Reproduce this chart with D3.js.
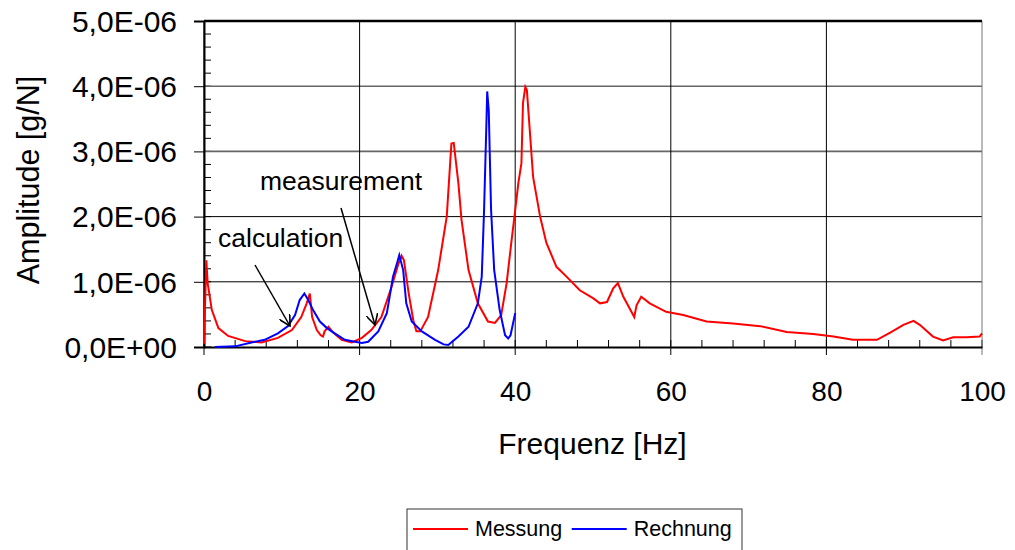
<!DOCTYPE html>
<html>
<head>
<meta charset="utf-8">
<script src="https://cdn.jsdelivr.net/npm/d3@7"></script>
<style>
  body { margin: 0; background: #fff; }
  text { font-family: "Liberation Sans", Arial, sans-serif; fill: #000; }
</style>
</head>
<body>
<div id="viz"></div>
<script>
// amplitudes in units of 1E-06 g/N
var messungFreq = [0, 0.3, 0.47, 0.77, 1.0, 1.85, 3.1, 5.3, 7.4, 9.5, 11.3, 12.5, 13.2, 13.6, 13.9, 14.5, 15.0, 15.3, 15.5, 16.0, 16.6, 17.7, 19.0, 20.3, 21.5, 22.8, 24.1, 25.0, 25.4, 25.7, 26.3, 26.9, 27.3, 27.8, 28.8, 30.1, 31.2, 31.8, 32.1, 32.7, 33.1, 34.0, 35.2, 36.5, 37.4, 38.2, 38.9, 39.5, 40.0, 40.4, 40.8, 41.0, 41.3, 41.5, 41.9, 42.3, 43.2, 44.0, 45.3, 46.6, 48.3, 50.0, 50.9, 51.8, 52.6, 53.2, 53.9, 54.8, 55.3, 55.6, 56.2, 57.3, 59.4, 61.6, 64.6, 68.0, 71.5, 74.9, 78.3, 80.9, 83.4, 86.5, 88.2, 89.9, 91.2, 92.0, 93.7, 95.0, 96.3, 98.0, 99.7, 100];
var messungAmp = [0.05, 1.33, 0.98, 0.75, 0.57, 0.29, 0.17, 0.09, 0.07, 0.14, 0.26, 0.46, 0.67, 0.82, 0.46, 0.26, 0.18, 0.16, 0.24, 0.31, 0.22, 0.11, 0.07, 0.14, 0.26, 0.46, 0.92, 1.28, 1.40, 1.33, 0.83, 0.41, 0.24, 0.24, 0.46, 1.18, 2.0, 3.12, 3.13, 2.51, 1.95, 1.18, 0.67, 0.39, 0.37, 0.49, 0.98, 1.6, 2.1, 2.51, 2.82, 3.74, 3.99, 3.94, 3.28, 2.61, 2.0, 1.6, 1.23, 1.08, 0.87, 0.75, 0.67, 0.69, 0.90, 0.98, 0.77, 0.57, 0.46, 0.64, 0.77, 0.67, 0.54, 0.49, 0.39, 0.36, 0.32, 0.23, 0.20, 0.16, 0.11, 0.11, 0.22, 0.34, 0.40, 0.34, 0.16, 0.10, 0.15, 0.15, 0.16, 0.21];

var rechnungFreq = [1.4, 4.0, 6.1, 7.8, 9.5, 10.8, 11.7, 12.3, 12.9, 13.4, 14.0, 14.9, 15.8, 16.8, 18.1, 19.4, 20.3, 21.1, 22.4, 23.5, 24.3, 24.8, 25.1, 25.6, 26.0, 26.7, 28.0, 29.7, 30.8, 31.4, 32.7, 34.0, 35.2, 35.7, 36.0, 36.3, 36.4, 36.6, 36.9, 37.3, 38.0, 38.7, 39.1, 39.4, 40.0];
var rechnungAmp = [0.0, 0.01, 0.07, 0.11, 0.21, 0.32, 0.49, 0.72, 0.82, 0.72, 0.57, 0.39, 0.29, 0.21, 0.11, 0.08, 0.06, 0.08, 0.24, 0.52, 1.08, 1.28, 1.41, 1.18, 0.67, 0.39, 0.24, 0.11, 0.04, 0.03, 0.16, 0.31, 0.67, 1.08, 2.1, 3.43, 3.92, 3.63, 2.1, 1.18, 0.57, 0.18, 0.13, 0.18, 0.52];

var xTicks = [0, 20, 40, 60, 80, 100];
var yTicks = [0, 1, 2, 3, 4, 5];
var yTickLabels = ["0,0E+00", "1,0E-06", "2,0E-06", "3,0E-06", "4,0E-06", "5,0E-06"];
var seriesNames = ["Messung", "Rechnung"];
var seriesColors = ["#ff0000", "#0000ff"];

var margin = { top: 21, right: 33, bottom: 203, left: 204 },
    width = 1015 - margin.left - margin.right,
    height = 550 - margin.top - margin.bottom;

var svg = d3.select("#viz")
    .append("svg")
    .attr("width", 1015)
    .attr("height", 550);

var g = svg.append("g")
    .attr("transform", "translate(" + margin.left + "," + margin.top + ")");

var x = d3.scaleLinear().domain([0, 100]).range([0, width]);
var y = d3.scaleLinear().domain([0, 5]).range([height, 0]);

// minor ticks, inside the plot
g.selectAll(".xminor")
    .data(d3.range(0, 101, 4))
    .enter().append("line")
    .attr("x1", d => x(d)).attr("x2", d => x(d))
    .attr("y1", height).attr("y2", height - 7)
    .attr("stroke", "#000");

g.selectAll(".yminor")
    .data(d3.range(0, 5.01, 0.2))
    .enter().append("line")
    .attr("x1", 0).attr("x2", 7)
    .attr("y1", d => y(d)).attr("y2", d => y(d))
    .attr("stroke", "#000");

// grid lines
g.selectAll(".hgrid")
    .data([1, 2, 3, 4])
    .enter().append("line")
    .attr("x1", 0).attr("x2", width)
    .attr("y1", d => y(d)).attr("y2", d => y(d))
    .attr("stroke", d => d >= 3 ? "#666" : "#000")
    .attr("stroke-width", d => d >= 3 ? 1.6 : 1);

g.selectAll(".vgrid")
    .data(xTicks)
    .enter().append("line")
    .attr("x1", d => x(d)).attr("x2", d => x(d))
    .attr("y1", 0).attr("y2", height + 8)
    .attr("stroke", d => d == 100 ? "#777" : "#000")
    .attr("stroke-width", 1);

// top border and axes
g.append("line").attr("x1", 0).attr("x2", width).attr("y1", 0).attr("y2", 0)
    .attr("stroke", "#000").attr("stroke-width", 2.5);

var xAxis = g.append("g")
    .attr("transform", "translate(0," + height + ")")
    .call(d3.axisBottom(x).tickValues(xTicks).tickSize(0).tickPadding(34));
xAxis.select(".domain").attr("stroke", "#000").attr("stroke-width", 2);
xAxis.selectAll("text").style("font-size", "28px");

var yAxis = g.append("g")
    .call(d3.axisLeft(y).tickValues(yTicks).tickSize(10).tickPadding(17)
        .tickFormat((d, i) => yTickLabels[i]));
yAxis.select(".domain").attr("stroke", "#000").attr("stroke-width", 2);
yAxis.selectAll("line").attr("stroke", "#000");
yAxis.selectAll("text").style("font-size", "30px").attr("dy", "0.34em");

// curves
var line = d3.line()
    .x(d => x(d[0]))
    .y(d => y(d[1]));

var series = [
    d3.zip(messungFreq, messungAmp),
    d3.zip(rechnungFreq, rechnungAmp)
];

g.selectAll(".curve")
    .data(series)
    .enter().append("path")
    .attr("fill", "none")
    .attr("stroke", (d, i) => seriesColors[i])
    .attr("stroke-width", 2)
    .attr("d", line);

// axis titles
svg.append("text")
    .attr("x", 592.5)
    .attr("y", 454)
    .style("text-anchor", "middle")
    .style("font-size", "30px")
    .text("Frequenz [Hz]");

svg.append("text")
    .attr("transform", "translate(38.5,180) rotate(-90)")
    .style("text-anchor", "middle")
    .style("font-size", "30.5px")
    .text("Amplitude [g/N]");

// annotations with arrows
svg.append("defs").append("marker")
    .attr("id", "arrow")
    .attr("viewBox", "0 0 12 12")
    .attr("refX", 11).attr("refY", 6)
    .attr("markerWidth", 12).attr("markerHeight", 12)
    .attr("markerUnits", "userSpaceOnUse")
    .attr("orient", "auto")
    .append("path")
    .attr("d", "M0,0 L11,6 L0,12")
    .attr("fill", "none")
    .attr("stroke", "#000")
    .attr("stroke-width", 1.6);

svg.append("text").attr("x", 218).attr("y", 247)
    .style("font-size", "26.5px").text("calculation");
svg.append("text").attr("x", 260).attr("y", 190)
    .style("font-size", "26.5px").text("measurement");

svg.append("line")
    .attr("x1", 255).attr("y1", 265).attr("x2", 290).attr("y2", 326)
    .attr("stroke", "#000").attr("stroke-width", 1.5)
    .attr("marker-end", "url(#arrow)");
svg.append("line")
    .attr("x1", 341).attr("y1", 208).attr("x2", 375).attr("y2", 325)
    .attr("stroke", "#000").attr("stroke-width", 1.5)
    .attr("marker-end", "url(#arrow)");

// legend
var legend = svg.append("g").attr("transform", "translate(407,509)");
legend.append("rect")
    .attr("x", 0).attr("y", 0).attr("width", 335).attr("height", 60)
    .attr("fill", "#fff").attr("stroke", "#333").attr("stroke-width", 1);

var items = legend.selectAll(".item")
    .data(seriesNames)
    .enter().append("g")
    .attr("transform", (d, i) => "translate(" + (6 + i * 158.7) + ",0)");
items.append("line")
    .attr("x1", 0).attr("x2", 55).attr("y1", 20).attr("y2", 20)
    .attr("stroke", (d, i) => seriesColors[i]).attr("stroke-width", 2);
items.append("text")
    .attr("x", 62).attr("y", 27)
    .style("font-size", "21.5px")
    .text(d => d);
</script>
</body>
</html>
